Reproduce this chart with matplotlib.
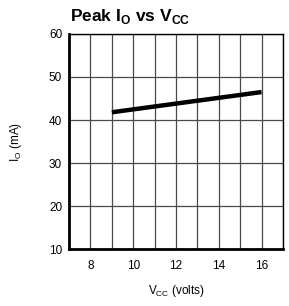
import matplotlib
matplotlib.use("Agg")
import matplotlib.pyplot as plt

plt.rcParams['font.family'] = ['Liberation Sans', 'DejaVu Sans']

vcc = [9, 16]
io_peak = [41.8, 46.5]
x_ticks = [8, 10, 12, 14, 16]
y_ticks = [10, 20, 30, 40, 50, 60]

fig = plt.figure(figsize=(2.89, 3.06), dpi=100)
ax = fig.add_axes([0.239, 0.186, 0.740, 0.703])

ax.plot(vcc, io_peak, color='black', lw=3.2, solid_capstyle='butt')

ax.set_xlim(7, 17)
ax.set_ylim(10, 60)
ax.set_xticks(x_ticks)
ax.set_xticks(range(7, 18), minor=True)
ax.set_yticks(y_ticks)
ax.grid(which='both', color='#4a4a4a', lw=0.9)
ax.tick_params(which='both', length=0, labelsize=8.5, pad=5)
ax.tick_params(axis='x', pad=8)
for s in ax.spines.values():
    s.set_color('black')
    s.set_linewidth(1.0)
ax.spines['left'].set_linewidth(2.0)
ax.spines['bottom'].set_linewidth(2.0)

ax.set_xlabel('V$_{\\mathregular{CC}}$ (volts)', fontsize=8.5, labelpad=8)
ax.set_ylabel('I$_{\\mathregular{O}}$ (mA)', fontsize=8.5, labelpad=18)
fig.text(0.242, 0.945, 'Peak I$_{\\mathregular{O}}$ vs V$_{\\mathregular{CC}}$',
         fontsize=12.5, fontweight='bold', ha='left', va='center')

fig.savefig('out.png', dpi=100)
